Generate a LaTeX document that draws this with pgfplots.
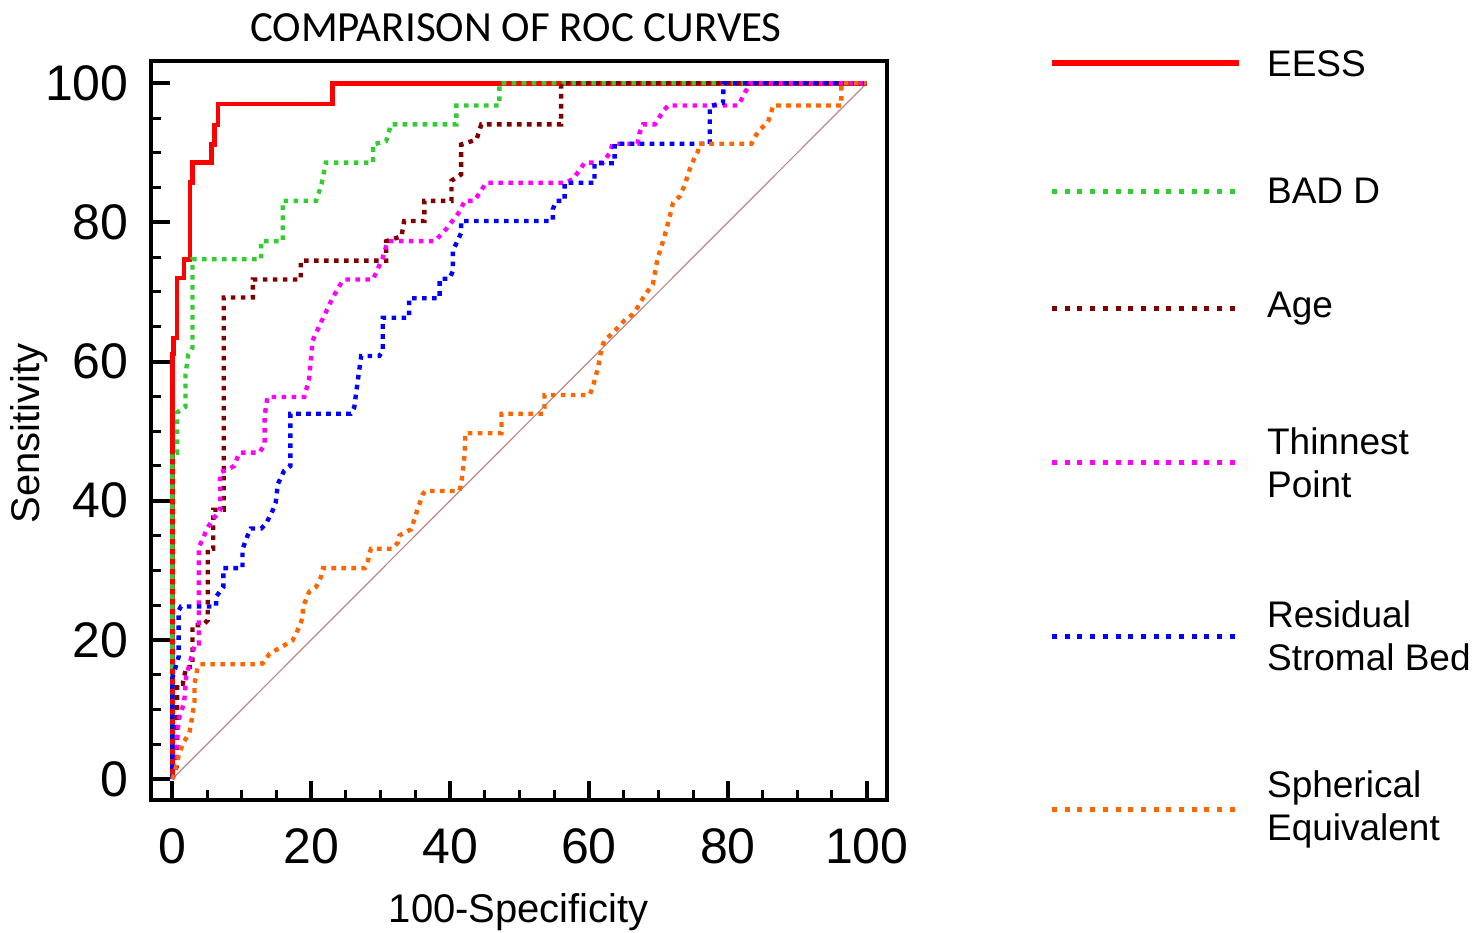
\documentclass[border=0pt]{standalone}
\usepackage{fontspec}
\setmainfont{Liberation Sans}
\newfontfamily\titlefont{Carlito}
\usepackage{pgfplots}
\pgfplotsset{compat=1.18}
\definecolor{cred}{RGB}{255,0,0}
\definecolor{cgreen}{RGB}{51,204,51}
\definecolor{cmaroon}{RGB}{128,0,0}
\definecolor{cmagenta}{RGB}{255,0,255}
\definecolor{cblue}{RGB}{0,0,255}
\definecolor{corange}{RGB}{255,102,0}
\definecolor{cdiag}{RGB}{190,135,135}
\pgfplotsset{
  dotline/.style={line width=2.2pt, dash pattern=on 2.3pt off 2.7pt},
  legdot/.style={line width=2.5pt, dash pattern=on 2.5pt off 3.85pt},
}
\begin{document}
\begin{tikzpicture}
\path[use as bounding box] (-75.5pt,-66pt) rectangle (662.5pt,400pt);
\begin{axis}[
  scale only axis, width=367.85pt, height=369.5pt,
  xmin=-3.07, xmax=102.88, ymin=-3.02, ymax=103.2,
  axis line style={line width=2pt},
  tick align=inside, xtick pos=left, ytick pos=left,
  xtick={0,20,...,100}, ytick={0,20,...,100},
  minor x tick num=3, minor y tick num=3,
  major tick length=9.5pt, minor tick length=5pt,
  every major tick/.append style={line width=2pt, black},
  every minor tick/.append style={line width=1.5pt, black},
  /pgf/number format/assume math mode=true,
  tick label style={font=\fontsize{25}{30}\selectfont, inner sep=0pt},
  xticklabel style={yshift=-14pt},
  yticklabel style={xshift=-11pt},
  title={\titlefont\fontsize{21.5}{26}\selectfont COMPARISON OF ROC CURVES},
  title style={at={(axis description cs:0.496,1.0095)}, anchor=base, inner sep=0pt, yshift=0pt},
  xlabel={100-Specificity},
  xlabel style={at={(axis description cs:0.5,-0.1664)}, anchor=base, inner sep=0pt, font=\fontsize{20}{24}\selectfont},
  ylabel={Sensitivity},
  ylabel style={at={(axis description cs:-0.1658,0.496)}, anchor=center, inner sep=0pt, font=\fontsize{20}{24}\selectfont},
  legend style={draw=none, fill=none, at={(axis description cs:1.2207,1.0835)}, anchor=north west,
    inner sep=0pt, outer sep=0pt, row sep=0pt, column sep=12.5pt,
    nodes={inner sep=0pt, outer sep=0pt, text depth=}, font=\fontsize{18.5}{21.5}\selectfont},
  legend cell align=left,
  legend image code/.code={\draw[#1] (0pt,0pt) -- (93.5pt,0pt);},
]
% chance line
\addplot[cdiag, line width=0.6pt, forget plot] coordinates {(0,0) (100,100)};
% EESS
\addplot[cred, line width=2.3pt, forget plot] coordinates {
(0,0)(0,61.1)(0.2,61.1)(0.2,63.4)(0.7,63.4)(0.7,72.0)(1.7,72.0)(1.7,74.7)(2.55,74.7)(2.55,85.7)(2.9,85.7)(2.9,88.6)(5.6,88.6)(5.6,91.2)(6.05,91.2)(6.05,94.0)(6.6,94.0)(6.6,97.0)(23.05,97.0)(23.05,100)(100,100)};
% BAD D
\addplot[cgreen, dotline, forget plot] coordinates {
(0,0)(0,46.9)(0.7,46.9)(0.7,52.7)(1.9,53.5)(1.9,58.2)(2.3,61)(2.9,62)(2.9,74.7)(12.8,74.7)(12.8,77.3)(15.9,77.3)(15.9,83.1)(20.7,83.1)(21.5,85.5)(22.1,88.6)(28.9,88.6)(28.9,91.2)(30.8,91.7)(31.5,94.1)(40.9,94.1)(40.9,96.8)(47.1,96.8)(47.1,100)(100,100)};
% Age
\addplot[cmaroon, dotline, forget plot] coordinates {
(0,0)(0.7,2)(0.7,13.7)(1.5,13.7)(2.0,16.1)(2.9,16.1)(2.9,22.1)(4.4,22.1)(5.1,22.8)(5.1,33.1)(5.9,33.1)(5.9,38.7)(7.4,38.7)(7.4,69.2)(11.6,69.2)(11.6,71.8)(18.5,71.8)(18.5,74.5)(30.8,74.5)(30.8,77.3)(33.0,78.0)(33.4,80.2)(36.3,80.2)(36.3,83.1)(40.2,83.1)(40.2,86.0)(41.6,86.9)(41.6,91.2)(43.8,91.9)(44.5,94.1)(56.0,94.1)(56.0,100)(100,100)};
% Thinnest Point
\addplot[cmagenta, dotline, forget plot] coordinates {
(0,0)(0.5,3)(0.9,8.5)(1.7,11)(2.0,14.7)(2.6,17)(3.3,19.5)(3.8,19.5)(3.8,33.3)(4.4,34.5)(5.0,36)(6.0,37.5)(6.9,38.6)(6.9,44.1)(8.0,44.5)(8.9,45)(9.65,46.9)(12.5,46.9)(13.3,48)(13.3,52.2)(13.7,54.9)(19.0,54.9)(19.7,57.5)(20.2,63.0)(21.4,65.6)(23.1,69.2)(24.5,71.6)(24.8,71.8)(28.9,71.8)(30.3,74.9)(31.0,77.3)(37.8,77.3)(39.4,79.0)(41.4,81.6)(42.1,83.1)(43.5,83.1)(45.2,85.7)(56.5,85.7)(57.7,86.2)(59.4,88.6)(62.0,88.6)(63.0,90.0)(63.4,91.3)(67.0,91.3)(67.3,92.9)(67.8,94.1)(69.5,94.1)(70.7,96.0)(71.4,96.8)(81.5,96.8)(82.6,98.9)(83.2,100)(100,100)};
% Residual Stromal Bed
\addplot[cblue, dotline, forget plot] coordinates {
(0,0)(0,14.5)(0.9,17.5)(0.9,24.2)(1.25,24.8)(6.3,24.8)(6.3,26.2)(7.35,27.6)(7.35,30.3)(10.1,30.3)(10.1,33)(10.85,35.0)(11.3,36.0)(12.8,36.0)(13.5,36.7)(14.45,38.6)(14.9,39.8)(15.2,42.4)(16.1,44.3)(17.0,45.0)(17.0,52.5)(25.7,52.5)(26.2,53.4)(26.7,57.2)(27.2,60.8)(29.8,60.8)(30.3,61.5)(30.3,66.3)(34.1,66.3)(34.1,69.1)(38.5,69.1)(38.5,71.9)(39.9,71.9)(40.4,73)(40.4,75.9)(41.6,78.5)(41.6,80.2)(54.8,80.2)(54.8,81.9)(55.3,83.1)(56.5,83.1)(56.5,85.7)(60.8,85.7)(60.8,88.5)(63.7,88.5)(63.7,91.3)(77.4,91.3)(77.4,96.7)(79.3,97.2)(79.4,100)(100,100)};
% Spherical Equivalent
\addplot[corange, dotline, forget plot] coordinates {
(0,0)(0.3,0.8)(1.0,3.7)(1.7,5.4)(2.45,6.6)(2.7,8.0)(3.2,11.1)(3.2,13.7)(3.65,16.1)(4.0,16.5)(11.6,16.5)(13.0,16.6)(14.0,18.0)(16.1,19.2)(17.3,19.9)(18.3,21.9)(18.8,23.3)(18.8,24.7)(19.7,26.9)(20.7,27.6)(21.4,29.0)(21.7,30.3)(27.7,30.3)(28.1,30.9)(28.4,32.4)(28.6,33.1)(31.7,33.1)(32.5,34.0)(32.7,35.0)(34.4,35.9)(35.1,38.1)(36.1,41.0)(36.5,41.4)(41.35,41.4)(41.6,42.4)(42.1,46.7)(42.2,49.7)(47.4,49.7)(47.4,52.5)(53.4,52.5)(53.6,53.4)(53.6,55.2)(60.1,55.2)(60.6,56.5)(61.3,59.1)(61.8,61.8)(62.2,63.0)(63.2,63.9)(64.2,64.9)(65.1,65.9)(66.3,66.8)(67.0,67.8)(68.0,69.5)(69.2,71.1)(69.9,74.9)(70.4,76.4)(71.1,78.8)(71.6,80.7)(72.1,82.8)(73.1,83.8)(73.8,85.4)(74.5,87.6)(75.2,89.3)(75.7,90.2)(75.9,91.3)(83.4,91.3)(84.1,92.6)(84.6,93.3)(85.8,94.5)(86.3,96.0)(86.5,96.8)(96.35,96.8)(96.35,100)(100,100)};
% legend
\addlegendimage{cred, line width=3pt}
\addlegendentry{\parbox[c][64pt][c]{120pt}{EESS}}
\addlegendimage{cgreen, legdot}
\addlegendentry{\parbox[c][63.7pt][c]{120pt}{BAD D}}
\addlegendimage{cmaroon, legdot}
\addlegendentry{\parbox[c][53.6pt][c]{120pt}{Age}}
\addlegendimage{cmagenta, legdot}
\addlegendentry{\parbox[c][100.8pt][c]{120pt}{Thinnest\\Point}}
\addlegendimage{cblue, legdot}
\addlegendentry{\parbox[c][72.5pt][c]{120pt}{Residual\\Stromal Bed}}
\addlegendimage{corange, legdot}
\addlegendentry{\parbox[c][100.8pt][c]{120pt}{Spherical\\Equivalent}}
\end{axis}
\end{tikzpicture}
\end{document}
